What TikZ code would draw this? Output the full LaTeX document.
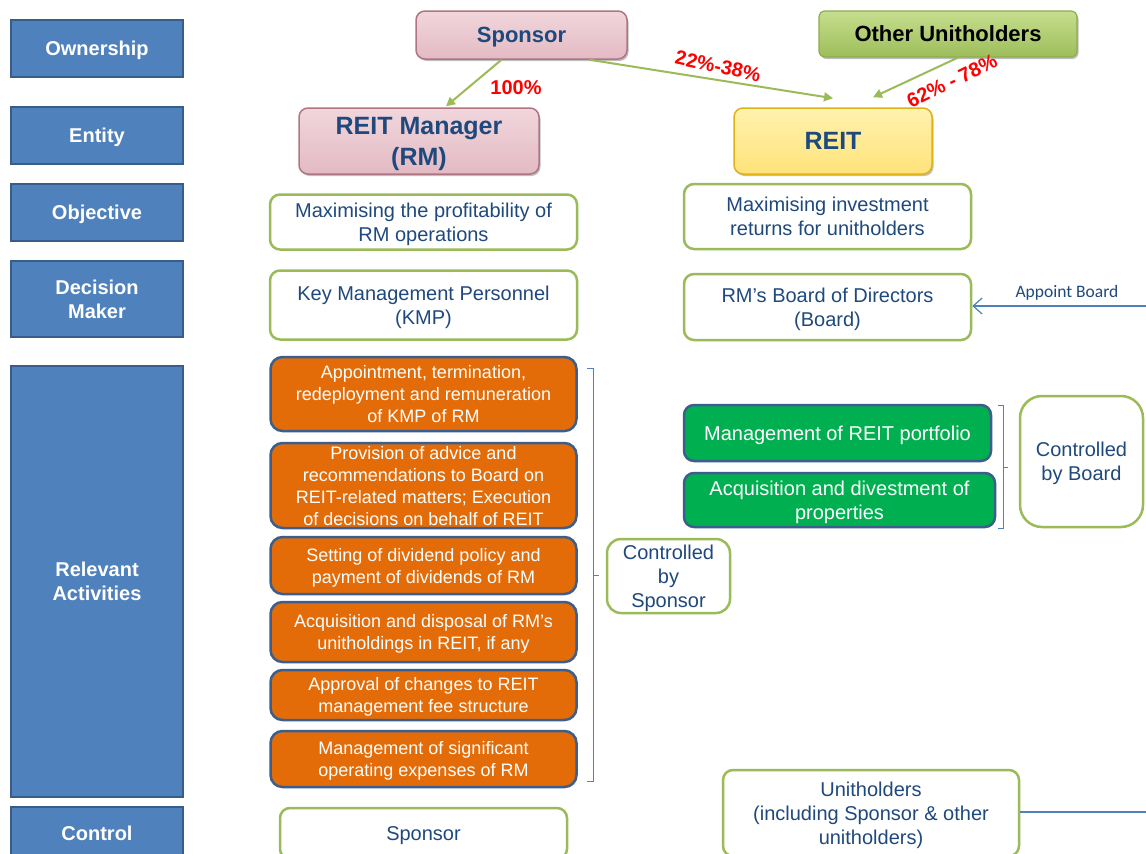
\documentclass[tikz,border=0pt]{standalone}
\usepackage{fontspec}
\setmainfont{Liberation Sans}
\newfontfamily\calfont{Carlito}
\usetikzlibrary{arrows.meta,shadows}
\definecolor{lblfill}{HTML}{4F81BD}
\definecolor{lblborder}{HTML}{385D8A}
\definecolor{txtblue}{HTML}{1F497D}
\definecolor{gborder}{HTML}{9BBB59}
\definecolor{orangefill}{HTML}{E36C09}
\definecolor{oborder}{HTML}{3B5E8C}
\definecolor{greenfill}{HTML}{00B050}
\definecolor{pinkfill}{HTML}{E3BAC3}
\definecolor{pinktop}{HTML}{F1D6DC}
\definecolor{pinkborder}{HTML}{B07585}
\definecolor{yellowtop}{HTML}{FFF2AE}
\definecolor{yellowbot}{HTML}{FFE37A}
\definecolor{yellowborder}{HTML}{E0B21A}
\definecolor{othertop}{HTML}{C6DE8E}
\definecolor{otherbot}{HTML}{9DBE5B}
\definecolor{otherborder}{HTML}{8CAE4A}
\tikzset{
  tdown/.style={text depth=-2pt},
  lbl/.style={tdown, draw=lblborder, fill=lblfill, line width=2.5pt, text=white,
    font=\bfseries\fontsize{20}{24}\selectfont, align=center, inner sep=0pt},
  gbox/.style={tdown, draw=gborder, line width=2.5pt, rounded corners=10pt, fill=white,
    text=txtblue, font=\fontsize{20}{24}\selectfont, align=center, inner sep=0pt},
  obox/.style={tdown, draw=oborder, fill=orangefill, line width=2.5pt, rounded corners=12pt,
    text=white, font=\fontsize{18}{22}\selectfont, align=center, inner sep=0pt,
    minimum width=306pt},
  grbox/.style={tdown, draw=oborder, fill=greenfill, line width=2.5pt, rounded corners=10pt,
    text=white, font=\fontsize{20}{24}\selectfont, align=center, inner sep=0pt},
  bevel/.style={drop shadow={shadow xshift=1.5pt, shadow yshift=-2pt, fill=black, opacity=0.25}},
  pinkbox/.style={tdown, bevel, draw=pinkborder, line width=1.5pt, rounded corners=9pt,
    top color=pinktop, bottom color=pinkfill, text=txtblue, align=center, inner sep=0pt},
  yellowbox/.style={tdown, bevel, draw=yellowborder, line width=1.5pt, rounded corners=9pt,
    top color=yellowtop, bottom color=yellowbot, text=txtblue, align=center, inner sep=0pt},
  otherbox/.style={tdown, bevel, draw=otherborder, line width=1.2pt, rounded corners=6pt,
    top color=othertop, bottom color=otherbot, text=black, align=center, inner sep=0pt},
  pct/.style={text=red, font=\bfseries\fontsize{20}{24}\selectfont, inner sep=0pt},
  own/.style={draw=gborder, line width=2pt, -{Triangle[length=9pt,width=9pt]}},
  bracket/.style={draw=lblfill, line width=0.8pt},
  blueline/.style={draw=lblfill, line width=1.2pt},
}
\begin{document}
\begin{tikzpicture}[x=1pt,y=-1pt]
\clip (0,0) rectangle (1146,854);
\fill[white] (0,0) rectangle (1146,854);
% left labels
\node[lbl, minimum width=172pt, minimum height=57pt] (lown) at (97,48.5) {Ownership};
\node[lbl, minimum width=172pt, minimum height=57pt] (lent) at (97,135.5) {Entity};
\node[lbl, minimum width=172pt, minimum height=57pt] (lobj) at (97,212.5) {Objective};
\node[lbl, minimum width=172pt, minimum height=76pt] (ldec) at (97,299) {Decision\\Maker};
\node[lbl, minimum width=172pt, minimum height=431pt] (lrel) at (97,581.5) {Relevant\\Activities};
\node[lbl, minimum width=172pt, minimum height=52pt] (lctl) at (97,833) {Control};
% ownership
\node[pinkbox, minimum width=211pt, minimum height=48pt, font=\bfseries\fontsize{22}{26}\selectfont] (sponsor) at (521.5,35) {Sponsor};
\node[otherbox, minimum width=258pt, minimum height=46pt, font=\bfseries\fontsize{22}{26}\selectfont] (other) at (948,34) {Other Unitholders};
% entity
\node[pinkbox, minimum width=240pt, minimum height=66pt, font=\bfseries\fontsize{25}{31}\selectfont] (rm) at (419,141) {REIT Manager\\(RM)};
\node[yellowbox, minimum width=198pt, minimum height=66pt, font=\bfseries\fontsize{25}{31}\selectfont] (reit) at (833,141) {REIT};
% ownership arrows
\draw[own] ([xshift=-20pt]sponsor.south) -- ([xshift=27pt,yshift=1pt]rm.north);
\draw[own] ([xshift=68pt]sponsor.south) -- ([yshift=9pt]reit.north);
\draw[own] ([xshift=10pt]other.south) -- ([xshift=40pt,yshift=10pt]reit.north);
\node[pct] (p100) at (516,88) {100\%};
\node[pct, rotate=-12] (p22) at (718,66) {22\%-38\%};
\node[pct, rotate=26] (p62) at (952,81) {62\% - 78\%};
% objective
\node[gbox, minimum width=307pt, minimum height=55pt] (objrm) at (423.5,222) {Maximising the profitability of\\RM operations};
\node[gbox, minimum width=287pt, minimum height=65pt] (objreit) at (827.5,216.5) {Maximising investment\\returns for unitholders};
% decision maker
\node[gbox, minimum width=307pt, minimum height=69pt] (decrm) at (423.5,305) {Key Management Personnel\\(KMP)};
\node[gbox, minimum width=287pt, minimum height=66pt] (decreit) at (827.5,307) {RM’s Board of Directors\\(Board)};
\coordinate (abstart) at (1146,306);
\draw[blueline, -{Straight Barb[length=9pt,width=16pt]}] (abstart) -- (decreit.east |- abstart);
\node[text=txtblue, font=\calfont\fontsize{17.5}{21}\selectfont, inner sep=0pt] (ablbl) at (1067,293) {Appoint Board};
% relevant activities (RM)
\node[obox, minimum height=74pt] (o1) at (423.5,394) {Appointment, termination,\\redeployment and remuneration\\of KMP of RM};
\node[obox, minimum height=85pt] (o2) at (423.5,485.5) {Provision of advice and\\recommendations to Board on\\REIT-related matters; Execution\\of decisions on behalf of REIT};
\node[obox, minimum height=57pt] (o3) at (423.5,565.5) {Setting of dividend policy and\\payment of dividends of RM};
\node[obox, minimum height=60pt] (o4) at (423.5,632) {Acquisition and disposal of RM’s\\unitholdings in REIT, if any};
\node[obox, minimum height=50pt] (o5) at (423.5,695) {Approval of changes to REIT\\management fee structure};
\node[obox, minimum height=56pt] (o6) at (423.5,759) {Management of significant\\operating expenses of RM};
\draw[bracket] (587,368) -- (593,368) -- (593,781) -- (587,781);
\draw[bracket] (593,575) -- (599,575);
\node[gbox, rounded corners=14pt, minimum width=123pt, minimum height=74pt] (csp) at (668.5,576) {Controlled\\by\\Sponsor};
% relevant activities (REIT)
\node[grbox, minimum width=307pt, minimum height=56pt] (g1) at (837.5,433) {Management of REIT portfolio};
\node[grbox, minimum width=311pt, minimum height=54pt] (g2) at (839.5,500) {Acquisition and divestment of\\properties};
\draw[bracket] (998,405) -- (1003,405) -- (1003,528) -- (998,528);
\draw[bracket] (1003,467) -- (1008,467);
\node[gbox, rounded corners=22pt, minimum width=123pt, minimum height=131pt] (cbd) at (1081.5,461.5) {Controlled\\by Board};
% control
\node[gbox, minimum width=287pt, minimum height=51pt] (ctlsp) at (423.5,833.5) {Sponsor};
\node[gbox, minimum width=296pt, minimum height=86pt] (ctlun) at (871,813) {Unitholders\\(including Sponsor \& other\\unitholders)};
\coordinate (unend) at (1146,812);
\draw[blueline] (ctlun.east |- unend) -- (unend);
\end{tikzpicture}
\end{document}
